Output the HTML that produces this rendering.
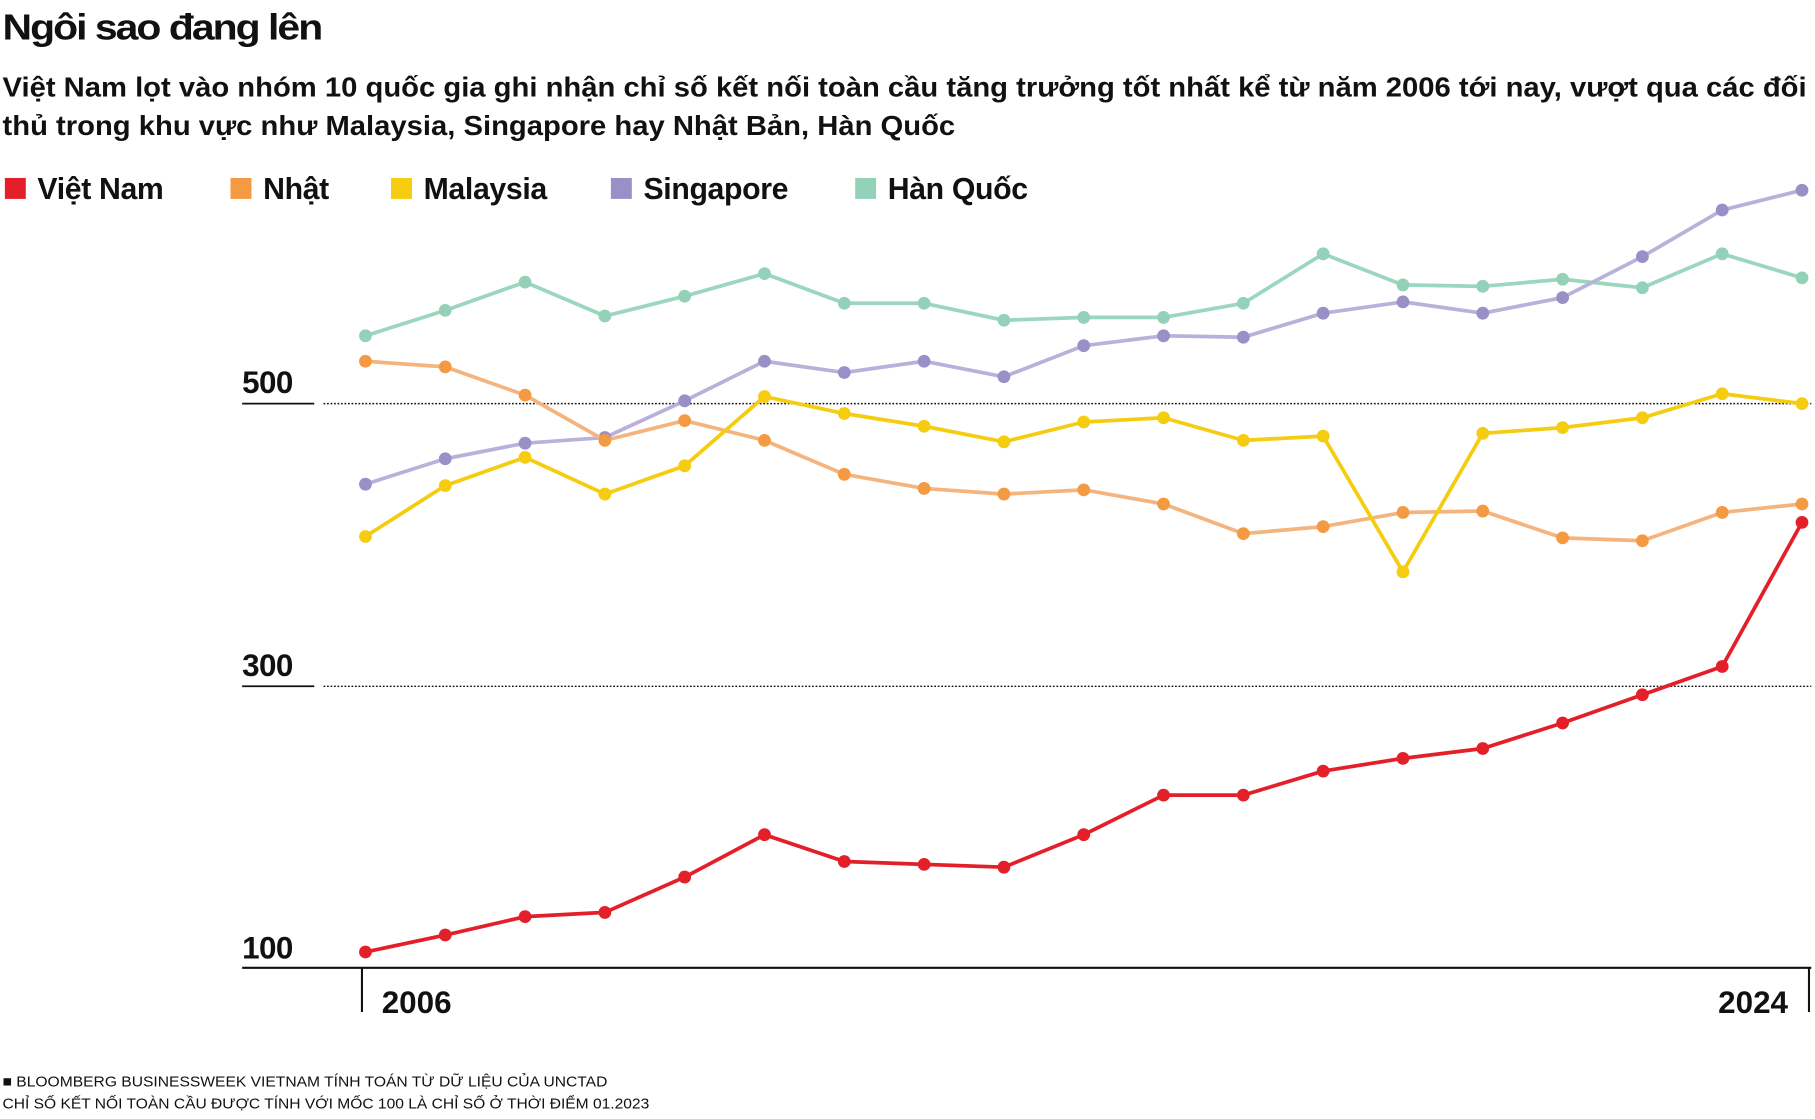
<!DOCTYPE html>
<html><head><meta charset="utf-8"><style>
html,body{margin:0;padding:0;background:#fff}
svg{display:block}
text{font-family:"Liberation Sans","DejaVu Sans",sans-serif;fill:#111}
</style></head><body>
<svg width="1815" height="1119" viewBox="0 0 1560 962" id="chart">
<text x="2" y="34" font-size="31" font-weight="bold" letter-spacing="-1.5" textLength="274" lengthAdjust="spacingAndGlyphs">Ngôi sao đang lên</text>
<text x="2" y="83" font-size="24" font-weight="bold" textLength="1551" lengthAdjust="spacingAndGlyphs" fill="#222">Việt Nam lọt vào nhóm 10 quốc gia ghi nhận chỉ số kết nối toàn cầu tăng trưởng tốt nhất kể từ năm 2006 tới nay, vượt qua các đối</text>
<text x="2" y="116" font-size="24" font-weight="bold" textLength="819" lengthAdjust="spacingAndGlyphs" fill="#222">thủ trong khu vực như Malaysia, Singapore hay Nhật Bản, Hàn Quốc</text>
<g id="legend"></g>
<g id="axes"></g>
<g id="series"></g>
<text x="2" y="934" font-size="13" fill="#333" textLength="520" lengthAdjust="spacingAndGlyphs">■ BLOOMBERG BUSINESSWEEK VIETNAM TÍNH TOÁN TỪ DỮ LIỆU CỦA UNCTAD</text>
<text x="2" y="953" font-size="13" fill="#333" textLength="556" lengthAdjust="spacingAndGlyphs">CHỈ SỐ KẾT NỐI TOÀN CẦU ĐƯỢC TÍNH VỚI MỐC 100 LÀ CHỈ SỐ Ở THỜI ĐIỂM 01.2023</text>
</svg>
<script>
const years = [2006,2007,2008,2009,2010,2011,2012,2013,2014,2015,2016,2017,2018,2019,2020,2021,2022,2023,2024];
const vietnam = [112,124,137,140,165,195,176,174,172,195,223,223,240,249,256,274,294,314,416];
const japan = [530,526,506,474,488,474,450,440,436,439,429,408,413,423,424,405,403,423,429];
const malaysia = [406,442,462,436,456,505,493,484,473,487,490,474,477,381,479,483,490,507,500];
const singapore = [443,461,472,476,502,530,522,530,519,541,548,547,564,572,564,575,604,637,651];
const korea = [548,566,586,562,576,592,571,571,559,561,561,571,606,584,583,588,582,606,589];
const seriesNames = ["Việt Nam","Nhật","Malaysia","Singapore","Hàn Quốc"];
const yTicks = [100,300,500];
const xTickLabels = ["2006","2024"];

const NS="http://www.w3.org/2000/svg";
const X = y => 314 + (y-2006)*(1549-314)/18;
const Y = v => 347 - (v-500)*1.215;
function mk(tag, attrs, parent){const e=document.createElementNS(NS,tag);for(const k in attrs)e.setAttribute(k,attrs[k]);parent.appendChild(e);return e;}
const axes=document.getElementById('axes'), ser=document.getElementById('series'), leg=document.getElementById('legend');

yTicks.forEach(t=>{
  const y=Y(t);
  const lab=mk('text',{x:208,y:y-9,'font-size':27,'font-weight':'bold','letter-spacing':'-0.5'},axes);
  lab.textContent=t;
  
  
  if(t>100){
    const u=mk('line',{x1:208,x2:270,y1:y,y2:y,stroke:'#111','stroke-width':1.5},axes);
    
    
    const g=mk('line',{x1:278,x2:1557,y1:y,y2:y,stroke:'#111','stroke-width':1.2,'stroke-dasharray':'1.5 1.5'},axes);
    
    
  }
});
const base=mk('line',{x1:208,x2:1557,y1:832,y2:832,stroke:'#111','stroke-width':1.8},axes);


[311,1555].forEach((x,i)=>{
  const l=mk('line',{x1:x,x2:x,y1:832,y2:870,stroke:'#111','stroke-width':1.8},axes);
  
  
  const t=mk('text',{x:i?1537:328,y:871,'font-size':27,'font-weight':'bold','text-anchor':i?'end':'start'},axes);
  t.textContent=xTickLabels[i];
  
  
});

const allSeries=[korea,singapore,japan,malaysia,vietnam];
const order=[4,3,1,2,0];
const lineCol=["#e3202a","#f5b47e","#f5cc10","#b9b1d9","#9bd6bf"];
const dotCol=["#e3202a","#f39a42","#f5cc10","#9a8fc7","#93d2b8"];
order.forEach((si,k)=>{
  const data=allSeries[k];
  const pts=data.map((v,i)=>X(years[i])+','+Y(v)).join(' ');
  const pl=mk('polyline',{points:pts,fill:'none',stroke:lineCol[si],'stroke-width':3.2,'stroke-linejoin':'round'},ser);
  
  
  data.forEach((v,i)=>{
    const c=mk('circle',{cx:X(years[i]),cy:Y(v),r:5.5,fill:dotCol[si]},ser);
    
    
  });
});

const legX=[4,198,336,525,735];
seriesNames.forEach((n,i)=>{
  const r=mk('rect',{x:legX[i],y:153,width:18,height:18,fill:dotCol[i]},leg);
  
  
  const t=mk('text',{x:legX[i]+28,y:171,'font-size':26,'font-weight':'bold','letter-spacing':'-0.3'},leg);
  t.textContent=n;
  
  
});
</script>
</body></html>
